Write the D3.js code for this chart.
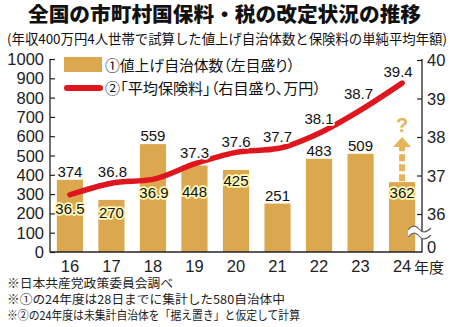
<!DOCTYPE html>
<html><head><meta charset="utf-8">
<script src="https://cdn.jsdelivr.net/npm/d3@7"></script>
<style>body{margin:0;background:#fff}svg{display:block}.palt{font-feature-settings:"palt"}</style>
</head><body><svg id="c" width="450" height="327"></svg>
<script>
// ---- data ----
const years = ["16","17","18","19","20","21","22","23","24"];
const hikeCounts = [374,270,559,448,425,251,483,509,362];
const avgPremium = [36.5,36.8,36.9,37.3,37.6,37.7,38.1,38.7,39.4];
const leftTicks = [0,100,200,300,400,500,600,700,800,900,1000];
const rightTicks = [36,37,38,39,40];
const titleText = "全国の市町村国保料・税の改定状況の推移";
const subtitleText = "(年収400万円4人世帯で試算した値上げ自治体数と保険料の単純平均年額)";
const legendBar = "①値上げ自治体数（左目盛り）";
const legendLine = "②「平均保険料」（右目盛り、万円）";
const notes = ["※日本共産党政策委員会調べ","※①の24年度は28日までに集計した580自治体中","※②の24年度は未集計自治体を「据え置き」と仮定して計算"];

// ---- layout / style ----
const BAR = "#dba84f", RED = "#e0161e", ARROW = "#e8b45a";
const JP = "'Noto Sans CJK JP', sans-serif", NUM = "'Liberation Sans', Arial, sans-serif";
const svg = d3.select("#c");
const x = d3.scaleBand().domain(years).range([50,422]).paddingInner(0.37).paddingOuter(0.165);
const yL = d3.scaleLinear().domain([0,1000]).range([252,59]);
const yR = d3.scaleLinear().domain([36,40]).range([214,60]);
const cx = d => x(d) + x.bandwidth()/2;

// titles
svg.append("text").attr("x",28).attr("y",22).attr("font-family",JP).attr("font-weight",900)
  .attr("font-size",20).attr("textLength",393).attr("lengthAdjust","spacingAndGlyphs").attr("fill","#111").text(titleText);
svg.append("text").attr("x",7).attr("y",43.5).attr("font-family",JP).attr("font-size",13.5)
  .attr("textLength",440).attr("lengthAdjust","spacingAndGlyphs").attr("fill","#111").text(subtitleText);

// bars
svg.append("g").selectAll("rect").data(years).join("rect")
  .attr("x",d=>x(d)).attr("width",x.bandwidth())
  .attr("y",(d,i)=>yL(hikeCounts[i])).attr("height",(d,i)=>252-yL(hikeCounts[i])).attr("fill",BAR);

// axes
const axL = svg.append("g").attr("transform","translate(50,0)")
  .call(d3.axisRight(yL).tickValues(leftTicks).tickSize(5).tickFormat(""));
const axR = svg.append("g").attr("transform","translate(422,0)")
  .call(d3.axisLeft(yR).tickValues(rightTicks).tickSize(5).tickFormat(""));
[axL,axR].forEach(a=>{a.select(".domain").remove();a.selectAll("line").attr("stroke","#222").attr("stroke-width",1.2);});
svg.append("line").attr("x1",50).attr("x2",50).attr("y1",59).attr("y2",252.5).attr("stroke","#222").attr("stroke-width",1.3);
svg.append("line").attr("x1",422).attr("x2",422).attr("y1",59).attr("y2",252.5).attr("stroke","#222").attr("stroke-width",1.3);
svg.append("line").attr("x1",50).attr("x2",422).attr("y1",252).attr("y2",252).attr("stroke","#222").attr("stroke-width",1.5);

svg.append("g").selectAll("text").data(leftTicks).join("text")
  .attr("x",44).attr("y",d=>yL(d)+6).attr("text-anchor","end").attr("font-family",NUM).attr("font-size",16.5)
  .attr("fill","#222").text(d=>d);
svg.append("g").selectAll("text").data(rightTicks).join("text")
  .attr("x",427).attr("y",d=>yR(d)+6).attr("font-family",NUM).attr("font-size",16.5).attr("fill","#222").text(d=>d);
svg.append("text").attr("x",427).attr("y",253).attr("font-family",NUM).attr("font-size",16.5).attr("fill","#222").text("0");
svg.append("g").selectAll("text").data(years).join("text")
  .attr("x",d=>cx(d)).attr("y",272).attr("text-anchor","middle").attr("font-family",NUM).attr("font-size",16.5)
  .attr("fill","#222").text(d=>d);
svg.append("text").attr("x",414).attr("y",273).attr("font-family",JP).attr("font-size",15).attr("fill","#222").text("年度");

// axis break
const brk = svg.append("g");
brk.append("path").attr("d","M408,230 C412,225 416,225 419,229 S426,233 431,228 L431,235 C426,240 422,240 419,236 S412,232 408,237 Z")
  .attr("fill","#fff");
brk.append("path").attr("d","M408,230 C412,225 416,225 419,229 S426,233 431,228").attr("fill","none").attr("stroke","#666").attr("stroke-width",1.2);
brk.append("path").attr("d","M408,237 C412,232 416,232 419,236 S426,240 431,235").attr("fill","none").attr("stroke","#666").attr("stroke-width",1.2);

// line
const line = d3.line().x((d,i)=>cx(years[i])).y(d=>yR(d)).curve(d3.curveMonotoneX);
svg.append("path").datum(avgPremium).attr("d",line).attr("fill","none").attr("stroke",RED)
  .attr("stroke-width",5.5).attr("stroke-linecap","round").attr("stroke-linejoin","round");

// arrow for 24
const ax24 = cx("24");
svg.append("line").attr("x1",ax24).attr("x2",ax24).attr("y1",yL(hikeCounts[8])-1).attr("y2",147)
  .attr("stroke",ARROW).attr("stroke-width",6).attr("stroke-dasharray","7,3");
svg.append("path").attr("d",`M${ax24-9},147 L${ax24+9},147 L${ax24},137 Z`).attr("fill",ARROW);
svg.append("text").attr("x",ax24).attr("y",132).attr("text-anchor","middle").attr("font-family",NUM)
  .attr("font-weight","bold").attr("font-size",20).attr("fill",ARROW).text("?");

// value labels
const barDy = [-3,18,-3,31,16,-3,-3,-3,16];
const inside = d => d > 0;
svg.append("g").selectAll("text").data(hikeCounts).join("text")
  .attr("x",(d,i)=>cx(years[i])).attr("y",(d,i)=>yL(d)+barDy[i]).attr("text-anchor","middle")
  .attr("font-family",NUM).attr("font-size",15).attr("fill","#111")
  .attr("stroke",(d,i)=>inside(barDy[i])?"#fff8b8":"#fff").attr("stroke-width",3.5)
  .attr("stroke-linejoin","round").attr("paint-order","stroke").text(d=>d);
const lineDy = [19,-6,19,-6,-5,-7,-9,-11,-6];
const lineDx = [0,1,1,0,0,0,0,-2,-4];
const lineHalo = [true,false,true,false,false,false,false,false,false];
svg.append("g").selectAll("text").data(avgPremium).join("text")
  .attr("x",(d,i)=>cx(years[i])+lineDx[i]).attr("y",(d,i)=>yR(d)+lineDy[i]).attr("text-anchor","middle")
  .attr("font-family",NUM).attr("font-size",15).attr("fill","#111")
  .attr("stroke",(d,i)=>lineHalo[i]?"#fff8b8":"#fff").attr("stroke-width",3.5)
  .attr("stroke-linejoin","round").attr("paint-order","stroke").text(d=>d.toFixed(1));

// legend
svg.append("rect").attr("x",64).attr("y",57).attr("width",38).attr("height",15).attr("fill",BAR);
svg.append("line").attr("x1",67).attr("x2",100).attr("y1",88).attr("y2",88).attr("stroke",RED)
  .attr("stroke-width",6).attr("stroke-linecap","round");
svg.append("text").attr("class","palt").attr("x",105).attr("y",70.5).attr("font-family",JP).attr("font-size",15)
  .attr("textLength",190).attr("lengthAdjust","spacingAndGlyphs").attr("fill","#111").text(legendBar);
svg.append("text").attr("class","palt").attr("x",105).attr("y",93.5).attr("font-family",JP).attr("font-size",15)
  .attr("textLength",216).attr("lengthAdjust","spacingAndGlyphs").attr("fill","#111").text(legendLine);

// notes
const noteLen = [166,278,293];
svg.append("g").selectAll("text").data(notes).join("text")
  .attr("x",7).attr("y",(d,i)=>288+i*16).attr("font-family",JP).attr("font-size",12)
  .attr("textLength",(d,i)=>noteLen[i]).attr("lengthAdjust","spacingAndGlyphs").attr("fill","#222").text(d=>d);
</script></body></html>
